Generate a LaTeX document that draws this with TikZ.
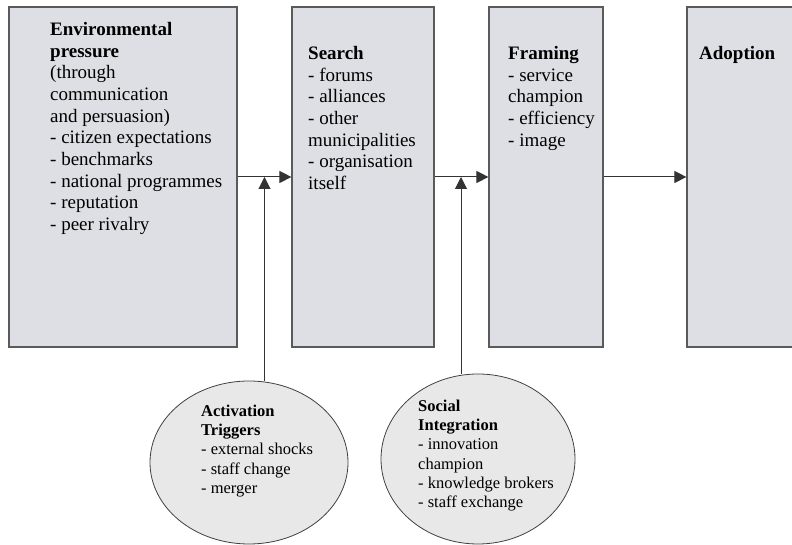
\documentclass[tikz,border=0pt]{standalone}
\usepackage{fontspec}
\setmainfont{Liberation Serif}
\usetikzlibrary{arrows.meta,shapes.geometric}

\definecolor{boxgray}{RGB}{222,223,228}
\definecolor{ovalgray}{RGB}{232,232,233}
\definecolor{edgegray}{RGB}{90,90,90}

\begin{document}
\begin{tikzpicture}[x = 1pt, y = 1pt, >={Triangle[length = 12pt, width = 12pt]},
	 stage/.style = {draw = edgegray, line width = 1.2pt, fill = boxgray, minimum height = 340pt, inner sep = 0pt},
	 factor/.style = {ellipse, draw = black!75, line width = 0.8pt, fill = ovalgray, inner sep = 0pt},
	 bigtext/.style = {anchor = north west, align = left, inner sep = 0pt, font = \fontsize{19}{21.7}\selectfont},
	 smalltext/.style = {anchor = north west, align = left, inner sep = 0pt, font = \fontsize{16.5}{19.25}\selectfont},
	 flow/.style = {->, draw = black!80, line width = 1pt}]
	 \useasboundingbox (0, 0) rectangle (792, 545);
	 \clip (0, 0) rectangle (792, 545);
	 
	 % the four stages
	 \node[stage, minimum width = 228pt] (env) at (123, 368) {};
	 \node[stage, minimum width = 142pt] (search) at (363, 368) {};
	 \node[stage, minimum width = 114pt] (framing) at (546, 368) {};
	 \node[stage, minimum width = 120pt] (adoption) at (747, 368) {};
	 
	 \node[bigtext] (envtext) at (50, 523) {\textbf{Environmental}\\\textbf{pressure}\\(through\\communication\\and persuasion)\\- citizen expectations\\- benchmarks\\- national programmes\\- reputation\\- peer rivalry};
	 \node[bigtext] (searchtext) at (308, 499) {\textbf{Search}\\- forums\\- alliances\\- other\\municipalities\\- organisation\\itself};
	 \node[bigtext] (framingtext) at (508, 499) {\textbf{Framing}\\- service\\champion\\- efficiency\\- image};
	 \node[bigtext] (adoptiontext) at (699, 499) {\textbf{Adoption}};
	 
	 % the two influences
	 \node[factor, minimum width = 198pt, minimum height = 163pt] (trig) at (249, 82.5) {};
	 \node[factor, minimum width = 194pt, minimum height = 170pt] (social) at (478, 86) {};
	 
	 \node[smalltext] (trigtext) at (201, 140.3) {\textbf{Activation}\\\textbf{Triggers}\\- external shocks\\- staff change\\- merger};
	 \node[smalltext] (socialtext) at (418, 145.3) {\textbf{Social}\\\textbf{Integration}\\- innovation\\champion\\- knowledge brokers\\- staff exchange};
	 
	 % connectors
	 \draw[flow] (env) -- (search);
	 \draw[flow] (search) -- (framing);
	 \draw[flow] (framing) -- (adoption);
	 
	 \coordinate (j1) at (264.5, 368);
	 \coordinate (j2) at (461, 368);
	 \draw[flow] (trig.north -| j1) -- (j1);
	 \draw[flow] (social.north -| j2) -- (j2);
\end{tikzpicture}
\end{document}
